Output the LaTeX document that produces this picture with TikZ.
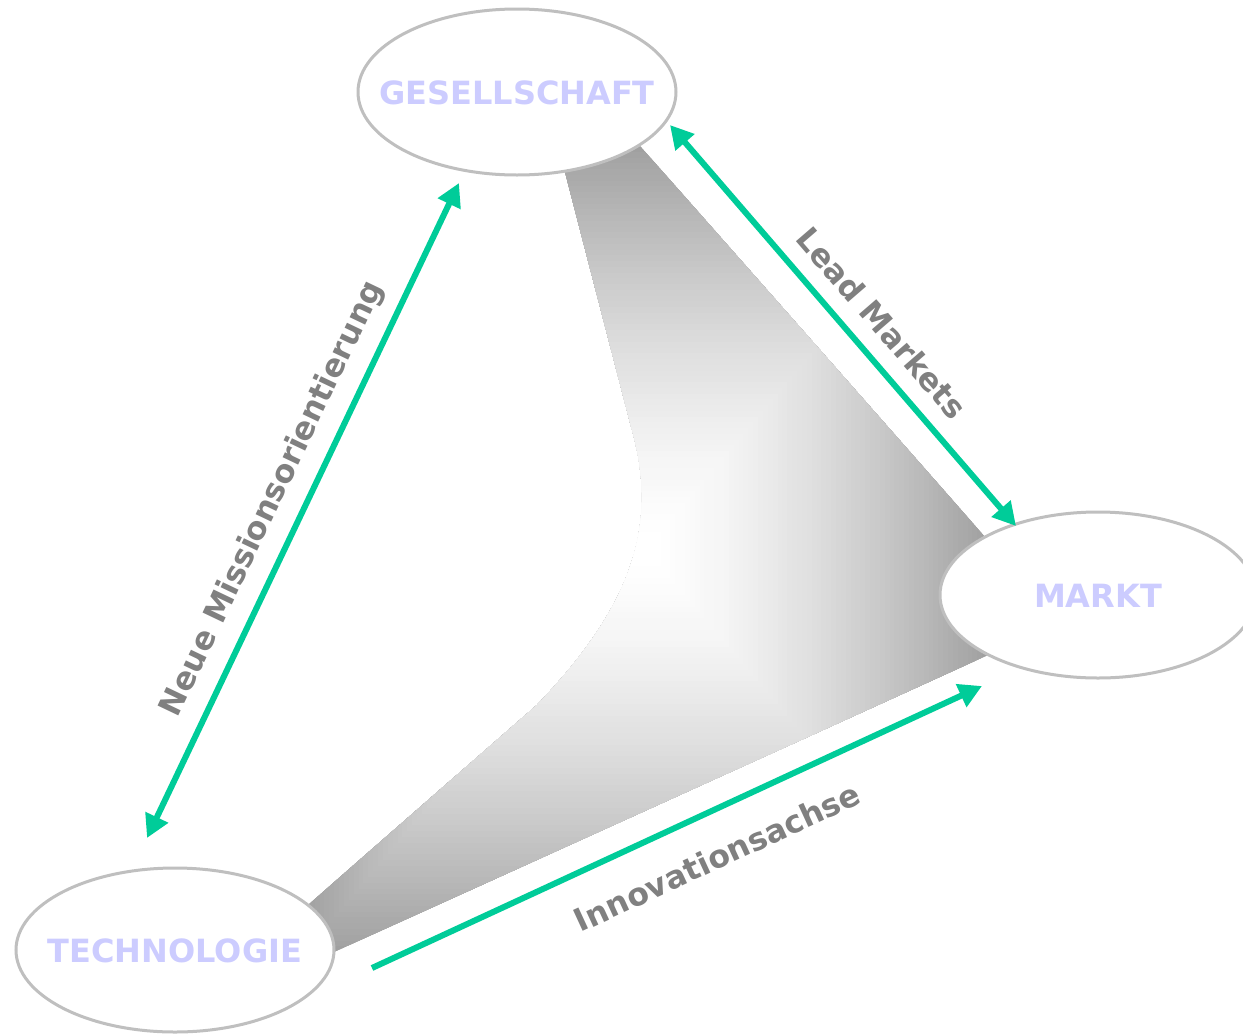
\documentclass[tikz,border=0pt]{standalone}
\usepackage{fontspec}
\setmainfont{DejaVu Sans}
\usetikzlibrary{shapes.geometric,arrows.meta}
\definecolor{ringgray}{RGB}{191,191,191}
\definecolor{labelblue}{RGB}{204,204,255}
\definecolor{arrowgreen}{RGB}{0,204,153}
\definecolor{textgray}{RGB}{128,128,128}
\definecolor{shadegray}{RGB}{160,160,160}
\begin{document}
\begin{tikzpicture}[x=1pt,y=-1pt,
  ringshape/.style={draw=ringgray, line width=3pt, fill=white},
  ellnode/.style={inner sep=0pt, text=labelblue,
    font=\fontsize{32}{38}\selectfont\bfseries},
  onelink/.style={draw=arrowgreen, line width=6pt,
    -{Triangle[length=23pt,width=24pt]}},
  twolink/.style={draw=arrowgreen, line width=6pt,
    {Triangle[length=23pt,width=24pt]}-{Triangle[length=23pt,width=24pt]}},
  axislabel/.style={text=textgray, inner sep=0pt,
    font=\fontsize{31.5}{37}\selectfont\bfseries}]
\useasboundingbox (0,0) rectangle (1243,1034);

% shaded funnel
\begin{scope}
  \clip (565,172) -- (640,146) -- (985,537) -- (988,655) -- (334,952)
     -- (308,905) -- (537,705) .. controls (628,610) and (660,530) .. (632,430) -- cycle;
  \fill[shadegray] (290,130) rectangle (1000,970);
  \foreach \i in {0,...,69} {
    \pgfmathsetmacro{\f}{1-\i/70}
    \pgfmathtruncatemacro{\p}{100*\f^1.5}
    \fill[shadegray!\p!white] (646-341*\f, 549-403*\f) rectangle (646+341*\f, 549+403*\f);
  }
\end{scope}

% rings
\path[ringshape] (517,92) ellipse [x radius=159, y radius=83];
\path[ringshape] (1098,595) ellipse [x radius=158, y radius=83];
\path[ringshape] (175,950) ellipse [x radius=159, y radius=82];

% nodes
\node[ellnode] (ges) at (517,93) {GESELLSCHAFT};
\node[ellnode] (markt) at (1098,596) {MARKT};
\node[ellnode] (tech) at (175,951) {TECHNOLOGIE};

% connectors
\coordinate (nmA) at (147,838);
\coordinate (nmB) at (459,183);
\coordinate (lmA) at (670,125);
\coordinate (lmB) at (1016,526);
\coordinate (inA) at (372,968);
\coordinate (inB) at (982,686);
\draw[twolink] (nmA) -- (nmB);
\draw[twolink] (lmA) -- (lmB);
\draw[onelink] (inA) -- (inB);

% labels
\node[axislabel, rotate=64.5] (nmL) at (273,499) {Neue Missionsorientierung};
\node[axislabel, rotate=-49.2] (lmL) at (882,323) {Lead Markets};
\node[axislabel, rotate=24.8] (inL) at (717,857) {Innovationsachse};
\end{tikzpicture}
\end{document}
